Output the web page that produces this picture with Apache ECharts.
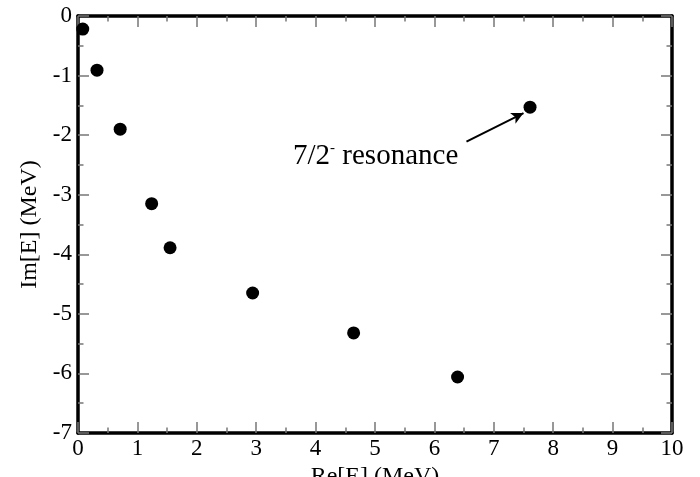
<!DOCTYPE html>
<html><head><meta charset="utf-8">
<script src="https://cdn.jsdelivr.net/npm/echarts@6/dist/echarts.min.js"></script>
<style>html,body{margin:0;padding:0;background:#fff}#c{width:700px;height:477px}</style>
</head><body><div id="c"></div>
<script>
var reE = [0.08, 0.32, 0.71, 1.24, 1.55, 2.94, 4.64, 6.39, 7.61];
var imE = [-0.22, -0.91, -1.90, -3.15, -3.89, -4.65, -5.32, -6.06, -1.53];
var xName = 'Re[E] (MeV)';
var yName = 'Im[E] (MeV)';
var annText = 'resonance';
var annPos = [3.62, -2.09];
var arrowFrom = [6.54, -2.11];
var arrowTo = [7.5, -1.63];

var pts = reE.map(function (x, i) { return [x, imE[i]]; });
var font = 'Liberation Serif';
var tickCol = '#777';
function axisBase(extra) {
  var a = {
    type: 'value',
    axisLine: { show: true, onZero: false, lineStyle: { color: '#000', width: 3.5 } },
    axisTick: { show: true, inside: true, length: 11, lineStyle: { color: tickCol, width: 1.5 } },
    minorTick: { show: true, splitNumber: 2, length: 5.5, lineStyle: { color: tickCol, width: 1.5 } },
    splitLine: { show: false },
    axisLabel: { show: true, fontFamily: font, fontSize: 23, color: '#000' }
  };
  for (var k in extra) a[k] = extra[k];
  return a;
}
var chart = echarts.init(document.getElementById('c'));
chart.setOption({
  animation: false,
  backgroundColor: '#fff',
  grid: { left: 78, right: 28, top: 16, bottom: 44, containLabel: false, outerBoundsMode: 'none' },
  xAxis: [
    axisBase({ position: 'bottom', min: 0, max: 10, interval: 1, name: xName, nameLocation: 'middle', nameGap: 21,
      nameTextStyle: { fontFamily: font, fontSize: 24, color: '#000' },
      axisLabel: { fontFamily: font, fontSize: 23, color: '#000', margin: 4 } }),
    axisBase({ position: 'top', min: 0, max: 10, interval: 1, axisLabel: { show: false } })
  ],
  yAxis: [
    axisBase({ position: 'left', min: -7, max: 0, interval: 1, name: yName, nameLocation: 'middle', nameGap: 36,
      nameTextStyle: { fontFamily: font, fontSize: 24, color: '#000' },
      axisLabel: { fontFamily: font, fontSize: 23, color: '#000', margin: 6, padding: [6, 0, 0, 0] } }),
    axisBase({ position: 'right', min: -7, max: 0, interval: 1, axisLabel: { show: false } })
  ],
  series: [{
    type: 'scatter',
    xAxisIndex: 0, yAxisIndex: 0,
    data: pts,
    symbol: 'circle',
    symbolSize: 13,
    itemStyle: { color: '#000', opacity: 1 },
    markLine: {
      silent: true,
      symbol: ['none', 'arrow'],
      symbolSize: [9, 12],
      label: { show: false },
      lineStyle: { color: '#000', width: 2, type: 'solid', opacity: 1 },
      data: [[{ coord: arrowFrom }, { coord: arrowTo }]]
    }
  }]
});
var p = chart.convertToPixel({ xAxisIndex: 0, yAxisIndex: 0 }, annPos);
chart.setOption({
  graphic: [{
    type: 'text', x: p[0], y: p[1],
    style: {
      text: '{n|7/2}{s|-}{n| ' + annText + '}',
      rich: {
        n: { fontFamily: font, fontSize: 29, color: '#000', lineHeight: 31 },
        s: { fontFamily: font, fontSize: 15, color: '#000', verticalAlign: 'top', lineHeight: 14 }
      },
      verticalAlign: 'top'
    }
  }]
});
</script></body></html>
